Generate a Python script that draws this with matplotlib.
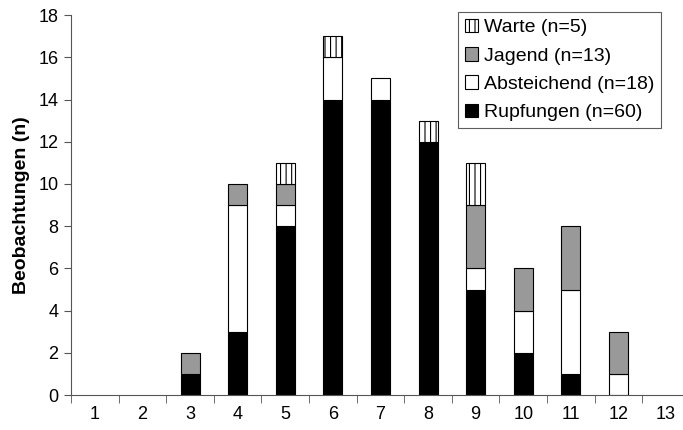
import numpy as np
import matplotlib
matplotlib.use("Agg")
import matplotlib.pyplot as plt

plt.rcParams['font.family'] = ['Liberation Sans', 'DejaVu Sans']
plt.rcParams['hatch.linewidth'] = 0.8

categories = list(range(1, 14))
rupfungen = [0, 0, 1, 3, 8, 14, 14, 12, 5, 2, 1, 0, 0]
absteichend = [0, 0, 0, 6, 1, 2, 1, 0, 1, 2, 4, 1, 0]
jagend = [0, 0, 1, 1, 1, 0, 0, 0, 3, 2, 3, 2, 0]
warte = [0, 0, 0, 0, 1, 1, 0, 1, 2, 0, 0, 0, 0]

x = np.array(categories)
w = 0.4

fig = plt.figure(figsize=(6.83, 4.30), dpi=100)
ax = fig.add_axes([0.104, 0.081, 0.906, 0.884])

b0 = np.zeros(len(x))
series = [
    ("Rupfungen (n=60)", rupfungen, "black", None),
    ("Absteichend (n=18)", absteichend, "white", None),
    ("Jagend (n=13)", jagend, "#999999", None),
    ("Warte (n=5)", warte, "white", "|||"),
]
handles = []
for label, vals, col, hatch in series:
    v = np.array(vals, dtype=float)
    m = v > 0
    h = ax.bar(x[m], v[m], w, bottom=b0[m], color=col, edgecolor="black",
               linewidth=0.8, hatch=hatch, label=label)
    handles.append(h)
    b0 = b0 + v

ax.set_xlim(0.5, 13.5)
ax.set_ylim(0, 18)
ax.set_yticks(range(0, 19, 2))
ax.set_xticks(x)
ax.set_xticks(np.arange(0.5, 14, 1), minor=True)
ax.tick_params(axis="x", which="major", length=0, pad=8, labelsize=13)
ax.tick_params(axis="x", which="minor", length=6, direction="out", color="#555555")
ax.tick_params(axis="y", length=5, direction="out", labelsize=13, color="#555555", pad=4)
ax.spines["top"].set_visible(False)
ax.spines["right"].set_visible(False)
ax.spines["left"].set_color("#555555")
ax.spines["bottom"].set_color("#555555")
ax.set_ylabel("Beobachtungen (n)", fontsize=14, fontweight="bold", labelpad=6)

leg = ax.legend(handles[::-1], [s[0] for s in series][::-1], loc="upper right",
                bbox_to_anchor=(0.968, 0.972), bbox_transform=fig.transFigure,
                fontsize=14, frameon=True, fancybox=False,
                handlelength=0.7, handleheight=0.7, handletextpad=0.3,
                labelspacing=0.55, borderpad=0.35, borderaxespad=0)
leg.get_frame().set_edgecolor("#333333")
leg.get_frame().set_linewidth(0.8)

fig.savefig("out.png", dpi=100)
